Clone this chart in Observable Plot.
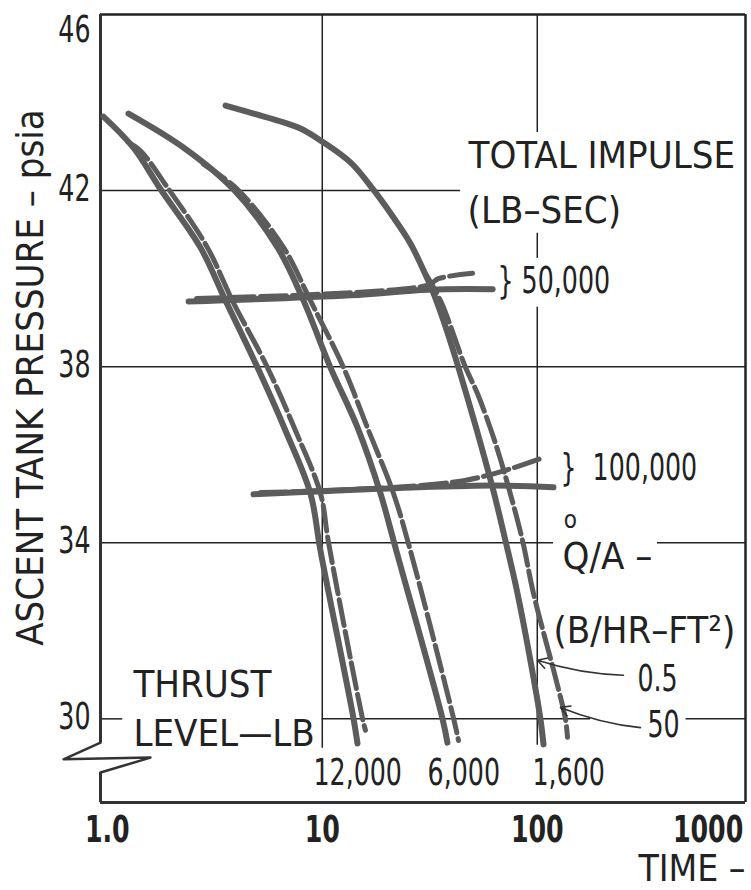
<!DOCTYPE html>
<html><head><meta charset="utf-8">
<script src="https://cdn.jsdelivr.net/npm/d3@7"></script>
<script src="https://cdn.jsdelivr.net/npm/@observablehq/plot@0.6"></script>
<style>body{margin:0;background:#fff;} svg{display:block}</style>
</head><body><div id="chart"></div>
<script>
const FONT = '"DejaVu Sans Condensed","DejaVu Sans",sans-serif';

// axis ticks
const xTicks = [1, 10, 100];
const xTickLabels = ["1.0", "10", "100"];
const xTickFar = [1000];
const yTicks = [30, 34, 38, 42];
const yTickTop = [46];

// thrust-level curves: [time, pressure]
const solid12000 = [[0.96,43.68],[1.32,42.98],[1.77,42.03],[2.71,40.71],[3.55,39.50],[5.00,37.98],[6.74,36.55],[8.81,35.12],[9.81,33.82],[13.97,30.01],[14.58,29.44]];
const dashed12000 = [[1.25,43.1],[1.43,42.9],[1.93,42.03],[2.92,40.71],[3.82,39.50],[5.56,37.98],[7.5,36.55],[9.81,35.12],[10.69,34.01],[15.38,30.01],[15.88,29.74]];
const solid6000 = [[1.255,43.75],[2.26,42.98],[3.86,42.03],[6.19,40.71],[8.18,39.50],[10.92,37.98],[14.58,36.62],[18.65,35.12],[22.1,33.82],[36.2,30.01],[38.2,29.46]];
const dashed6000 = [[2.8,42.6],[4.03,42.03],[6.60,40.71],[8.81,39.50],[12.55,37.98],[16.2,36.62],[21.44,35.12],[25.7,33.82],[40.8,30.01],[43.0,29.51]];
const solid1600 = [[3.55,43.93],[6.89,43.52],[7.92,43.41],[9.81,43.14],[13.53,42.64],[17.1,42.05],[21.44,41.39],[25.7,40.80],[29.56,40.19],[32.55,39.73],[36.6,39.05],[43.0,37.98],[61.9,35.26],[71.1,34.05],[80.9,32.85],[96.0,30.94],[103.5,29.99],[106.9,29.42]];
const dashed1600 = [[29.56,40.19],[35.46,39.50],[46.4,37.98],[52.7,37.39],[63.9,36.26],[73.5,35.26],[85.4,34.05],[96.0,32.85],[121.5,30.94],[135.3,29.99],[138.2,29.58]];

// total impulse lines
const impulse50kSolid = [[2.39,39.48],[13.5,39.62],[31,39.75],[62,39.76]];
const impulse50kDashed = [[2.6,39.55],[31,39.85],[34.7,40.0],[50,40.12]];
const impulse100kSolid = [[4.79,35.10],[60.6,35.30],[118.9,35.26]];
const impulse100kDashed = [[5.16,35.14],[45.4,35.41],[103.5,35.91]];

// grid segments (data units)
const hGrid = [
  {y:42, x1:0.93, x2:44},
  {y:38, x1:0.93, x2:930},
  {y:34, x1:0.93, x2:119}, {y:34, x1:362, x2:930},
  {y:30, x1:0.93, x2:1.18}, {y:30, x1:10, x2:177}, {y:30, x1:492, x2:930}
];
const vGrid = [
  {x:10, y1:29.33, y2:46},
  {x:100, y1:43.32, y2:46}, {x:100, y1:40.46, y2:41.03}, {x:100, y1:29.4, y2:39.35}
];
const frameLeft = [{y1:29.46, y2:46}, {y1:28.1, y2:28.78}];
const axisBreak = [[0.93,29.46],[0.626,29.08],[1.588,29.12],[0.93,28.78]];

// annotations
const labels = [
  {x:47.9, y:42.80, text:"TOTAL IMPULSE"},
  {x:47.4, y:41.53, text:"(LB–SEC)"},
  {x:65.3, y:39.96, text:"} 50,000"},
  {x:128.2, y:35.71, text:"}  100,000"},
  {x:131.0, y:33.69, text:"Q/A –"},
  {x:118.9, y:32.01, text:"(B/HR–FT²)"},
  {x:292.4, y:30.92, text:"0.5"},
  {x:325.5, y:29.87, text:"50"},
  {x:1.324, y:30.78, text:"THRUST"},
  {x:1.324, y:29.67, text:"LEVEL—LB"},
  {x:9.1, y:28.78, text:"12,000"},
  {x:30.9, y:28.78, text:"6,000"},
  {x:95.0, y:28.78, text:"1,600"}
];
const qDot = [{x:142.7, y:34.52, text:"o"}];
const leaders = [
  {x1:251.7, y1:30.99, x2:100.2, y2:31.33},
  {x1:302, y1:29.80, x2:128.2, y2:30.26}
];

const curveColor = "#5c5c5c";
const lineMark = (data, dashed) => Plot.line(data, {
  x: d => d[0], y: d => d[1], stroke: curveColor,
  strokeWidth: dashed ? 5 : 6,
  strokeDasharray: dashed ? "26,6" : null,
  curve: "catmull-rom"
});

const chart = Plot.plot({
  width: 751, height: 890,
  marginLeft: 100, marginRight: 6, marginTop: 14, marginBottom: 88,
  x: {type: "log", domain: [0.93, 930]},
  y: {domain: [28.1, 46]},
  style: {fontFamily: FONT, background: "white", overflow: "visible", color: "#222"},
  marks: [
    Plot.ruleY(hGrid, {y: "y", x1: "x1", x2: "x2", stroke: "#222", strokeWidth: 1.5}),
    Plot.ruleX(vGrid, {x: "x", y1: "y1", y2: "y2", stroke: "#222", strokeWidth: 1.5}),
    Plot.ruleY([46], {stroke: "#222", strokeWidth: 2.5}),
    Plot.ruleY([28.1], {stroke: "#333", strokeWidth: 3}),
    Plot.ruleX([930], {stroke: "#222", strokeWidth: 2.5}),
    Plot.ruleX(frameLeft, {x: () => 0.93, y1: "y1", y2: "y2", stroke: "#333", strokeWidth: 3}),
    Plot.line(axisBreak, {x: d => d[0], y: d => d[1], stroke: "#333", strokeWidth: 2.5}),
    lineMark(impulse50kSolid, false),
    lineMark(impulse50kDashed, true),
    lineMark(impulse100kSolid, false),
    lineMark(impulse100kDashed, true),
    lineMark(solid12000, false), lineMark(dashed12000, true),
    lineMark(solid6000, false), lineMark(dashed6000, true),
    lineMark(solid1600, false), lineMark(dashed1600, true),
    Plot.arrow(leaders, {x1: "x1", y1: "y1", x2: "x2", y2: "y2", stroke: "#333", strokeWidth: 1.6, headLength: 10, bend: 8}),
    Plot.text(labels, {x: "x", y: "y", text: "text", fontSize: 38, textAnchor: "start", fill: "#222"}),
    Plot.text(qDot, {x: "x", y: "y", text: "text", fontSize: 24, fill: "#222"}),
    Plot.axisX(xTicks, {tickSize: 0, tickPadding: 13, fontSize: 38, fontWeight: "bold",
      tickFormat: d => xTickLabels[xTicks.indexOf(d)], label: null}),
    Plot.axisX(xTickFar, {tickSize: 0, tickPadding: 13, fontSize: 38, fontWeight: "bold", dx: -9,
      textAnchor: "end", tickFormat: d => String(d), label: null}),
    Plot.axisY(yTicks, {tickSize: 0, tickPadding: 10, fontSize: 38, dy: -2, label: null}),
    Plot.axisY(yTickTop, {tickSize: 0, tickPadding: 10, fontSize: 38, dy: 15, label: null}),
    Plot.text(["ASCENT TANK PRESSURE – psia"], {frameAnchor: "left", text: d => d, rotate: -90, dx: -70, dy: -31,
      textAnchor: "middle", lineAnchor: "middle", fontSize: 38, fill: "#222"}),
    Plot.text(["TIME –"], {frameAnchor: "bottom-right", text: d => d, textAnchor: "end", lineAnchor: "middle",
      dx: 0, dy: 67, fontSize: 37, fill: "#222"})
  ]
});
document.getElementById("chart").appendChild(chart);

// condense numeric labels (narrow lettering like the original)
chart.querySelectorAll("text").forEach(t => {
  const s = t.textContent;
  if (/^[\d.,}\s]+$/.test(s)) {
    const L = t.getComputedTextLength();
    t.setAttribute("textLength", (L * 0.74).toFixed(1));
    t.setAttribute("lengthAdjust", "spacingAndGlyphs");
  }
});
</script>
</body></html>
